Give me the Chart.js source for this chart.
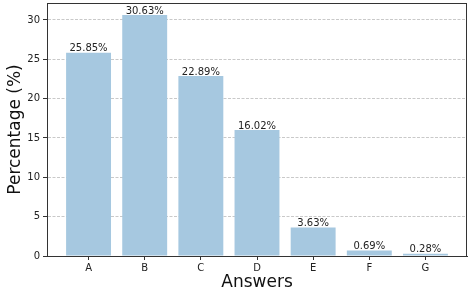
<!DOCTYPE html>
<html><head><meta charset="utf-8">
<script src="https://cdn.jsdelivr.net/npm/chart.js@4/dist/chart.umd.min.js"></script>
<style>html,body{margin:0;padding:0;background:#fff}#wrap{width:469px;height:293px}</style>
</head><body><div id="wrap"><canvas id="c"></canvas></div>
<script>
const categories = ["A","B","C","D","E","F","G"];
const percentages = [25.85, 30.63, 22.89, 16.02, 3.63, 0.69, 0.28];
const yTicks = [0, 5, 10, 15, 20, 25, 30];

const FONT = "'DejaVu Sans', sans-serif";
const points = percentages.map((v, i) => ({x: i, y: v}));

const labelPlugin = {
  id: 'labels',
  afterDatasetsDraw(chart) {
    const ctx = chart.ctx;
    const meta = chart.getDatasetMeta(0);
    ctx.save();
    ctx.font = "10px " + FONT;
    ctx.fillStyle = '#222';
    ctx.textAlign = 'center';
    ctx.textBaseline = 'bottom';
    meta.data.forEach((bar, i) => {
      ctx.fillText(percentages[i].toFixed(2) + '%', bar.x, bar.y + 1);
    });
    ctx.restore();
  }
};
const framePlugin = {
  id: 'frame',
  afterDraw(chart) {
    const a = chart.chartArea, ctx = chart.ctx;
    ctx.save();
    ctx.strokeStyle = '#333';
    ctx.lineWidth = 1;
    ctx.strokeRect(Math.round(a.left) + 0.5, Math.round(a.top) + 0.5, Math.round(a.right - a.left) - 1, Math.round(a.bottom - a.top));
    ctx.restore();
  }
};

new Chart(document.getElementById('c'), {
  type: 'bar',
  data: {
    datasets: [{
      data: points,
      backgroundColor: 'rgb(166,200,224)',
      borderWidth: 0,
      barPercentage: 0.8,
      categoryPercentage: 1.0
    }]
  },
  options: {
    responsive: true,
    maintainAspectRatio: false,
    animation: false,
    layout: {padding: {top: 3, right: 2, left: 0, bottom: 0}},
    plugins: {legend: {display: false}, tooltip: {enabled: false}},
    scales: {
      x: {
        type: 'linear',
        offset: false,
        min: -0.74, max: 6.74,
        afterBuildTicks(s) { s.ticks = categories.map((c, i) => ({value: i})); },
        afterFit(s) { s.height = 37; s.paddingLeft = 0; s.paddingRight = 0; },
        ticks: {
          callback: (v) => categories[v],
          font: {family: FONT, size: 10}, color: '#222', padding: 2,
          maxRotation: 0, autoSkip: false
        },
        grid: {display: true, offset: false, drawOnChartArea: false, drawTicks: true, tickLength: 4, tickColor: '#333', tickWidth: 1},
        border: {display: true, color: '#333', width: 1},
        title: {display: true, text: 'Answers', font: {family: FONT, size: 17}, color: '#111', padding: {top: 0, bottom: 0}}
      },
      y: {
        min: 0, max: 32.16,
        afterBuildTicks(s) { s.ticks = yTicks.map(v => ({value: v})); },
        afterFit(s) { s.width = 47; s.paddingTop = 0; s.paddingBottom = 0; },
        ticks: {font: {family: FONT, size: 10}, color: '#222', padding: 3},
        grid: {
          color: 'rgba(170,170,170,0.8)', lineWidth: 0.8,
          tickColor: '#333', tickLength: 4, tickWidth: 1
        },
        border: {display: true, color: '#333', width: 1, dash: [3, 1.5]},
        title: {display: true, text: 'Percentage (%)', font: {family: FONT, size: 17}, color: '#111', padding: {top: 5, bottom: 0}}
      }
    }
  },
  plugins: [labelPlugin, framePlugin]
});
</script>
</body></html>
